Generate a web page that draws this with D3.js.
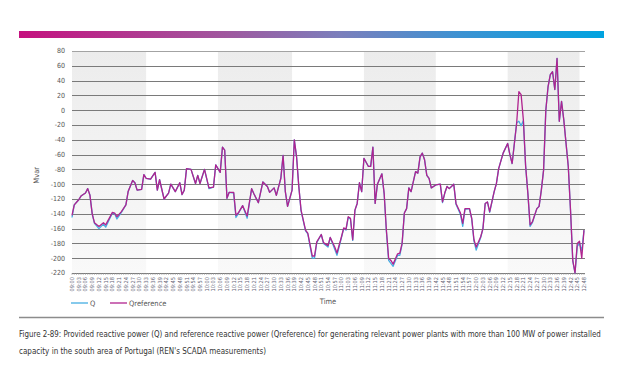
<!DOCTYPE html>
<html>
<head>
<meta charset="utf-8">
<script src="https://cdn.jsdelivr.net/npm/d3@7"></script>
<style>
  html, body { margin: 0; padding: 0; background: #fff; }
  svg text { font-family: "Liberation Sans Narrow", "DejaVu Sans Condensed", "Roboto Condensed", sans-serif; }
</style>
</head>
<body>
<div id="chart"></div>
<script>
// ----------------------------------
// DATA
// ----------------------------------

const times = ["09:00","09:01","09:03","09:04","09:06","09:07","09:08","09:09","09:10","09:12",
  "09:14","09:15","09:18","09:19","09:20","09:22","09:24","09:25","09:27","09:28",
  "09:29","09:31","09:32","09:33","09:35","09:37","09:38","09:39","09:41","09:43",
  "09:44","09:46","09:48","09:49","09:50","09:51","09:53","09:55","09:56","09:57",
  "09:59","10:01","10:03","10:04","10:06","10:07","10:08","10:09","10:10","10:12",
  "10:13","10:14","10:16","10:18","10:20","10:21","10:23","10:25","10:27","10:28",
  "10:30","10:31","10:33","10:34","10:35","10:36","10:38","10:39","10:40","10:41",
  "10:42","10:44","10:45","10:47","10:48","10:49","10:51","10:52","10:54","10:55",
  "10:57","10:58","11:00","11:01","11:02","11:03","11:04","11:05","11:06","11:07",
  "11:08","11:09","11:10","11:12","11:13","11:14","11:15","11:16","11:17","11:18",
  "11:19","11:20","11:21","11:22","11:23","11:25","11:26","11:27","11:28","11:29",
  "11:30","11:31","11:33","11:34","11:35","11:36","11:37","11:38","11:39","11:40",
  "11:42","11:44","11:45","11:46","11:47","11:48","11:50","11:51","11:53","11:54",
  "11:55","11:57","11:58","11:59","12:00","12:02","12:03","12:04","12:05","12:06",
  "12:08","12:09","12:10","12:12","12:14","12:15","12:16","12:18","12:19","12:20",
  "12:21","12:22","12:23","12:24","12:25","12:27","12:28","12:29","12:30","12:31",
  "12:32","12:33","12:34","12:35","12:36","12:37","12:38","12:39","12:41","12:42",
  "12:43","12:44","12:45","12:46","12:47","12:48"];

const qref = [-142,-128,-121,-116,-112,-106,-115,-140,-152,-157,
  -152,-155,-138,-139,-144,-137,-128,-110,-95,-98,
  -108,-107,-87,-92,-93,-84,-108,-94,-120,-112,
  -100,-110,-98,-114,-108,-79,-80,-99,-88,-99,
  -80,-105,-104,-74,-84,-50,-54,-119,-111,-111,
  -142,-139,-129,-143,-106,-113,-125,-97,-103,-111,
  -105,-115,-92,-61,-110,-130,-108,-40,-63,-103,
  -135,-162,-166,-197,-197,-178,-168,-179,-183,-172,
  -185,-193,-171,-159,-161,-144,-146,-175,-135,-126,
  -98,-110,-65,-76,-76,-50,-126,-100,-93,-86,
  -112,-162,-200,-203,-208,-194,-193,-180,-139,-133,
  -105,-110,-83,-85,-63,-58,-67,-88,-92,-105,
  -101,-100,-124,-112,-103,-106,-100,-126,-139,-153,
  -133,-133,-146,-175,-185,-171,-160,-126,-124,-137,
  -110,-99,-79,-58,-45,-60,-72,-18,25,21,
  -13,-75,-112,-155,-151,-133,-130,-108,-81,0,
  32,48,52,28,70,-15,12,-13,-76,-135,
  -203,-220,-180,-177,-200,-162];

const q = [-145,-128,-121,-116,-112,-106,-115,-140,-153,-160,
  -154,-158,-139,-140,-147,-138,-128,-110,-95,-98,
  -108,-107,-87,-92,-93,-84,-108,-94,-120,-112,
  -100,-110,-98,-114,-108,-79,-80,-99,-88,-99,
  -80,-106,-104,-74,-84,-50,-54,-119,-111,-112,
  -145,-140,-129,-146,-106,-113,-125,-97,-103,-111,
  -105,-115,-92,-61,-110,-130,-108,-40,-63,-103,
  -136,-163,-167,-200,-200,-179,-168,-180,-185,-172,
  -188,-196,-172,-160,-162,-145,-147,-176,-135,-126,
  -98,-110,-65,-76,-76,-50,-126,-100,-93,-86,
  -113,-164,-203,-207,-211,-196,-196,-181,-139,-133,
  -105,-110,-83,-85,-63,-58,-67,-88,-92,-105,
  -101,-100,-125,-112,-103,-106,-100,-127,-141,-157,
  -134,-133,-147,-177,-189,-172,-160,-126,-124,-138,
  -110,-99,-79,-58,-45,-60,-72,-17,-15,-21,
  -14,-75,-113,-157,-152,-133,-130,-108,-81,0,
  32,48,52,28,70,-15,12,-13,-76,-136,
  -204,-220,-184,-180,-190,-162];

const tickLabels = ["09:00","09:03","09:06","09:09","09:12","09:15","09:18","09:21","09:24","09:27",
  "09:30","09:33","09:36","09:39","09:42","09:45","09:48","09:51","09:54","09:57",
  "10:00","10:03","10:06","10:09","10:12","10:15","10:18","10:21","10:24","10:27",
  "10:30","10:33","10:36","10:39","10:42","10:45","10:48","10:51","10:54","10:57",
  "11:00","11:03","11:06","11:09","11:12","11:15","11:18","11:21","11:24","11:27",
  "11:30","11:33","11:36","11:39","11:42","11:45","11:48","11:51","11:54","11:57",
  "12:00","12:03","12:06","12:09","12:12","12:15","12:18","12:21","12:24","12:27",
  "12:30","12:33","12:36","12:39","12:42","12:45","12:48"];

const yTicks = [80,60,40,20,0,-20,-40,-60,-80,-100,-120,-140,-160,-180,-200,-220];

// shaded background bands (start / end time)
const bands = [["09:00","09:33"],["10:05","10:38"],["11:10","11:42"],["12:14","12:46"]];

const captionLines = [
  "Figure 2-89: Provided reactive power (Q) and reference reactive power (Qreference) for generating relevant power plants with more than 100 MW of power installed",
  "capacity in the south area of Portugal (REN's SCADA measurements)"
];

// ----------------------------------
// SET UP
// ----------------------------------

const width = 630, height = 388;
const margin = {left: 72, right: 46, top: 51, bottom: 115};
const innerW = width - margin.left - margin.right,
      innerH = height - margin.top - margin.bottom;

const toMin = s => { const p = s.split(":"); return (+p[0] - 9) * 60 + (+p[1]); };

const svg = d3.select("#chart").append("svg")
  .attr("width", width)
  .attr("height", height);

const defs = svg.append("defs");
const barGrad = defs.append("linearGradient").attr("id", "topbar");
[["0%","#c5117f"],["35%","#a0579e"],["55%","#7b7fbc"],["75%","#3e92d2"],["100%","#00a3e0"]]
  .forEach(s => barGrad.append("stop").attr("offset", s[0]).attr("stop-color", s[1]));

const bandGrad = defs.append("linearGradient").attr("id", "band")
  .attr("x1", 0).attr("y1", 0).attr("x2", 0).attr("y2", 1);
bandGrad.append("stop").attr("offset", "0%").attr("stop-color", "#ececec");
bandGrad.append("stop").attr("offset", "100%").attr("stop-color", "#f9f9f9");

// top colour bar
svg.append("rect")
  .attr("x", 19).attr("y", 31).attr("width", 585).attr("height", 7)
  .attr("fill", "url(#topbar)");

// ----------------------------------
// SCALES
// ----------------------------------

const xScale = d3.scaleLinear()
  .domain([0, toMin("12:48")])
  .range([0, innerW]);

const yScale = d3.scaleLinear()
  .domain([-220, 80])
  .range([innerH, 0]);

const g = svg.append("g")
  .attr("transform", `translate(${margin.left}, ${margin.top})`);

// bands
g.selectAll("rect.band")
  .data(bands)
  .enter().append("rect")
  .attr("class", "band")
  .attr("x", d => xScale(toMin(d[0])))
  .attr("width", d => xScale(toMin(d[1])) - xScale(toMin(d[0])))
  .attr("y", 0)
  .attr("height", innerH)
  .attr("fill", "url(#band)");

// gridlines
g.selectAll("line.grid")
  .data(yTicks)
  .enter().append("line")
  .attr("class", "grid")
  .attr("x1", 0).attr("x2", innerW + 1)
  .attr("y1", d => Math.round(yScale(d)) + 0.5)
  .attr("y2", d => Math.round(yScale(d)) + 0.5)
  .attr("stroke", d => d === 80 ? "#a3a3a3" : "#7a7a7a")
  .attr("stroke-width", 1.1);

// y tick labels
g.selectAll("text.ytick")
  .data(yTicks)
  .enter().append("text")
  .attr("class", "ytick")
  .attr("x", -7)
  .attr("y", d => yScale(d))
  .attr("dy", "0.35em")
  .attr("text-anchor", "end")
  .attr("font-size", 7)
  .attr("fill", "#555")
  .text(d => d);

// x axis: small ticks every minute
const minuteTicks = d3.range(0, toMin("12:48") + 1);
g.selectAll("line.xtick")
  .data(minuteTicks)
  .enter().append("line")
  .attr("x1", d => xScale(d)).attr("x2", d => xScale(d))
  .attr("y1", innerH).attr("y2", innerH + 2)
  .attr("stroke", "#999")
  .attr("stroke-width", 0.6);

g.selectAll("text.xlabel")
  .data(tickLabels)
  .enter().append("text")
  .attr("class", "xlabel")
  .attr("transform", d => `translate(${xScale(toMin(d)) + 2},${innerH + 4}) rotate(-90)`)
  .attr("text-anchor", "end")
  .attr("font-size", 5.6)
  .attr("fill", "#667")
  .text(d => d);

// axis titles
g.append("text")
  .attr("x", innerW / 2).attr("y", innerH + 31)
  .attr("text-anchor", "middle")
  .attr("font-size", 7.5)
  .attr("fill", "#555")
  .text("Time");

g.append("text")
  .attr("transform", `translate(-33, ${yScale(-88)}) rotate(-90)`)
  .attr("text-anchor", "middle")
  .attr("font-size", 7.5)
  .attr("fill", "#555")
  .text("Mvar");

// ----------------------------------
// LINES
// ----------------------------------

const series = [
  {name: "Q", values: q, color: "#45ade2", weight: 1.3},
  {name: "Qreference", values: qref, color: "#b0238f", weight: 1.3}
];

series.forEach(s => {
  const line = d3.line()
    .x((d, i) => xScale(toMin(times[i])))
    .y(d => yScale(d));

  g.append("path")
    .datum(s.values)
    .attr("d", line)
    .attr("fill", "none")
    .attr("stroke", s.color)
    .attr("stroke-width", s.weight)
    .attr("stroke-linejoin", "round");
});

// legend
const legend = svg.append("g").attr("transform", "translate(71, 303)");
[{x: 0, s: series[0]}, {x: 39, s: series[1]}].forEach(l => {
  legend.append("line")
    .attr("x1", l.x).attr("x2", l.x + 17)
    .attr("y1", 0).attr("y2", 0)
    .attr("stroke", l.s.color).attr("stroke-width", 1.3);
  legend.append("text")
    .attr("x", l.x + 19).attr("y", 0).attr("dy", "0.35em")
    .attr("font-size", 7.5).attr("fill", "#555")
    .text(l.s.name);
});

// ----------------------------------
// CAPTION
// ----------------------------------

svg.append("line")
  .attr("x1", 19).attr("x2", 604)
  .attr("y1", 317.5).attr("y2", 317.5)
  .attr("stroke", "#8c8c8c").attr("stroke-width", 1.5);

// squeeze each caption line horizontally so it fits its measured width
[{y: 336.5, w: 582}, {y: 353.5, w: 247}].forEach((c, i) => {
  const t = svg.append("text")
    .attr("font-size", 9.2).attr("fill", "#333")
    .text(captionLines[i]);
  const natural = t.node().getComputedTextLength();
  t.attr("transform", `translate(19, ${c.y}) scale(${c.w / natural}, 1)`);
});
</script>
</body>
</html>
